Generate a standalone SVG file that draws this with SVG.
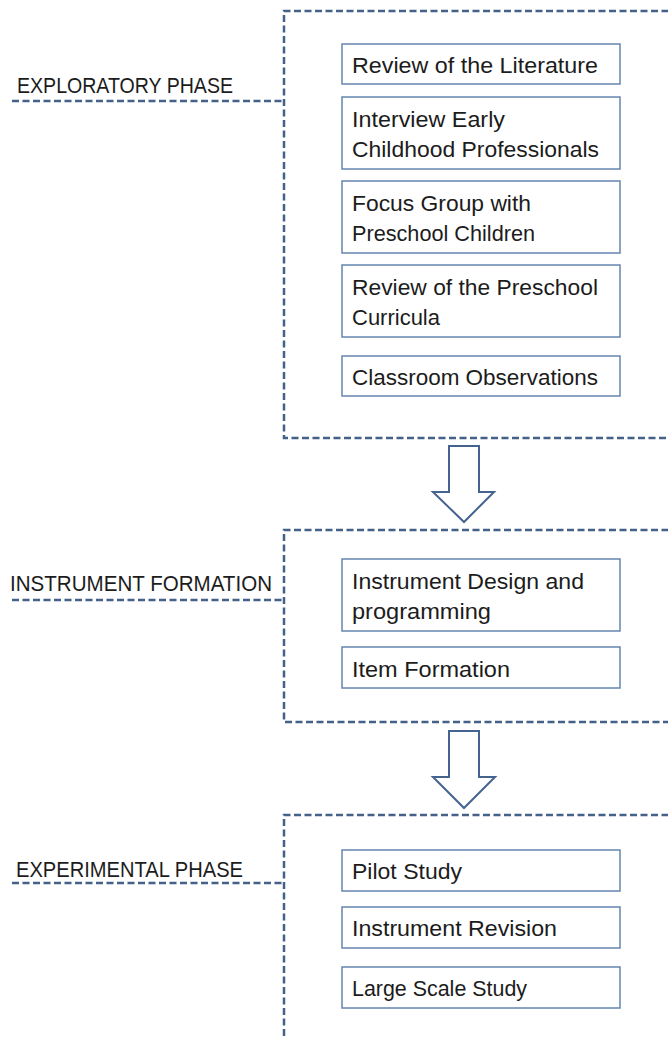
<svg xmlns="http://www.w3.org/2000/svg" width="668" height="1038" viewBox="0 0 668 1038">
<style>
.dash{fill:none;stroke:#44618a;stroke-width:2.5;stroke-dasharray:7 3.5}
.box{fill:#ffffff;stroke:#6685b0;stroke-width:1.5}
.t{font-family:"Liberation Sans",Arial,sans-serif;font-size:21.5px;fill:#1c1c1c}
.arrow{fill:#ffffff;stroke:#45638f;stroke-width:2;stroke-linejoin:miter}
</style>
<rect width="668" height="1038" fill="#ffffff"/>
<g id="phase1">
<path class="dash" d="M700,11 H284 V438 H700"/>
<path class="dash" d="M12,101 H284"/>
<text class="t" x="17" y="93" textLength="216" lengthAdjust="spacingAndGlyphs">EXPLORATORY PHASE</text>
</g>
<g id="n1"><rect class="box" x="342" y="44" width="278" height="40"/><text class="t" x="352" y="73" textLength="246" lengthAdjust="spacingAndGlyphs">Review of the Literature</text></g>
<g id="n2"><rect class="box" x="342" y="97" width="278" height="72"/><text class="t" x="352" y="127" textLength="153" lengthAdjust="spacingAndGlyphs">Interview Early</text><text class="t" x="352" y="157" textLength="247" lengthAdjust="spacingAndGlyphs">Childhood Professionals</text></g>
<g id="n3"><rect class="box" x="342" y="181" width="278" height="72"/><text class="t" x="352" y="211" textLength="179" lengthAdjust="spacingAndGlyphs">Focus Group with</text><text class="t" x="352" y="241" textLength="183" lengthAdjust="spacingAndGlyphs">Preschool Children</text></g>
<g id="n4"><rect class="box" x="342" y="265" width="278" height="72"/><text class="t" x="352" y="295" textLength="246" lengthAdjust="spacingAndGlyphs">Review of the Preschool</text><text class="t" x="352" y="325" textLength="88" lengthAdjust="spacingAndGlyphs">Curricula</text></g>
<g id="n5"><rect class="box" x="342" y="356" width="278" height="40"/><text class="t" x="352" y="385" textLength="246" lengthAdjust="spacingAndGlyphs">Classroom Observations</text></g>
<g id="phase2">
<path class="dash" d="M700,530 H284 V722 H700"/>
<path class="dash" d="M12,600 H284"/>
<text class="t" x="10" y="591" textLength="262" lengthAdjust="spacingAndGlyphs">INSTRUMENT FORMATION</text>
</g>
<g id="n6"><rect class="box" x="342" y="559" width="278" height="72"/><text class="t" x="352" y="589" textLength="232" lengthAdjust="spacingAndGlyphs">Instrument Design and</text><text class="t" x="352" y="619" textLength="139" lengthAdjust="spacingAndGlyphs">programming</text></g>
<g id="n7"><rect class="box" x="342" y="647" width="278" height="41"/><text class="t" x="352" y="677" textLength="158" lengthAdjust="spacingAndGlyphs">Item Formation</text></g>
<g id="phase3">
<path class="dash" d="M700,815 H284 V1045"/>
<path class="dash" d="M12,883 H284"/>
<text class="t" x="16" y="877" textLength="227" lengthAdjust="spacingAndGlyphs">EXPERIMENTAL PHASE</text>
</g>
<g id="n8"><rect class="box" x="342" y="850" width="278" height="41"/><text class="t" x="352" y="879" textLength="110" lengthAdjust="spacingAndGlyphs">Pilot Study</text></g>
<g id="n9"><rect class="box" x="342" y="907" width="278" height="41"/><text class="t" x="352" y="936" textLength="205" lengthAdjust="spacingAndGlyphs">Instrument Revision</text></g>
<g id="n10"><rect class="box" x="342" y="967" width="278" height="41"/><text class="t" x="352" y="996" textLength="175" lengthAdjust="spacingAndGlyphs">Large Scale Study</text></g>
<g id="connectors">
<path class="arrow" d="M449,446 H479 V492 H494 L464,522 L433,492 H449 Z"/>
<path class="arrow" d="M449,731 H479 V777 H495 L464,808 L433,777 H449 Z"/>
</g>
</svg>
